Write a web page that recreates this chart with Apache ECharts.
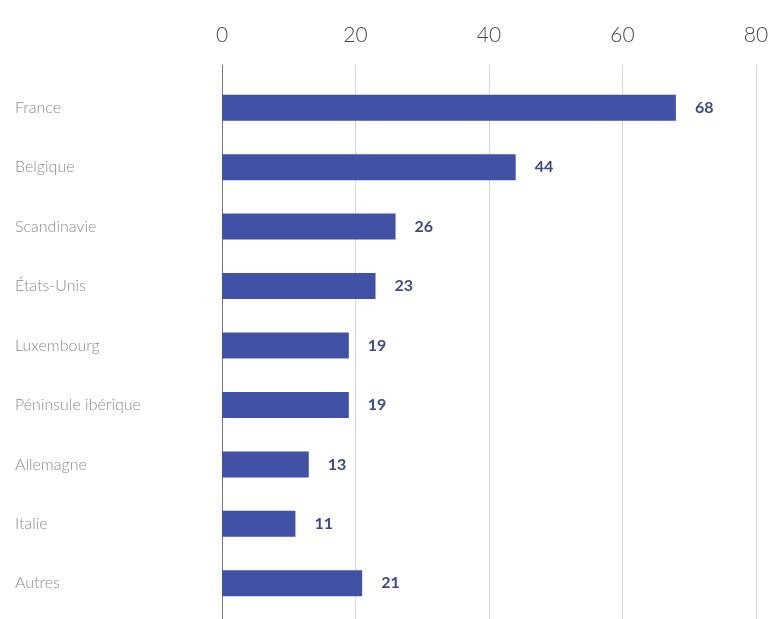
<!DOCTYPE html>
<html><head><meta charset="utf-8">
<script src="https://cdn.jsdelivr.net/npm/echarts@6/dist/echarts.min.js"></script>
<style>html,body{margin:0;padding:0;background:#fff}#c{width:775px;height:619px}</style>
</head><body><div id="c"></div>
<script>
const categories = ["France","Belgique","Scandinavie","États-Unis","Luxembourg","Péninsule ibérique","Allemagne","Italie","Autres"];
const values = [68,44,26,23,19,19,13,11,21];
const xTicks = [0,20,40,60,80];

const chart = echarts.init(document.getElementById('c'));
chart.setOption({
  animation:false,
  grid:[
    {left:222,right:19,top:65,bottom:0},
    {left:222,right:19,top:78,bottom:6}
  ],
  xAxis:[
    {gridIndex:0,type:'value',position:'top',min:xTicks[0],max:xTicks[xTicks.length-1],interval:20,
     axisLine:{show:false},axisTick:{show:false},
     axisLabel:{color:'#4a4a4a',fontSize:21,fontFamily:'Lato',fontWeight:300,margin:19},
     splitLine:{lineStyle:{color:'#d6d6d6',width:1}}},
    {gridIndex:1,type:'value',min:0,max:80,show:false,splitLine:{show:false}}
  ],
  yAxis:[
    {gridIndex:0,type:'value',min:0,max:1,show:true,axisLine:{show:true,lineStyle:{color:'#777',width:1}},
     axisTick:{show:false},axisLabel:{show:false},splitLine:{show:false}},
    {gridIndex:1,type:'category',data:categories,inverse:true,
     axisLine:{show:false},axisTick:{show:false},splitLine:{show:false},
     axisLabel:{align:'left',margin:207,color:'#8c8c8c',fontSize:16,fontFamily:'Lato',fontWeight:300,padding:[0,0,10,0]}}
  ],
  series:[{
    type:'bar',xAxisIndex:1,yAxisIndex:1,data:values,barWidth:26,
    itemStyle:{color:'#4152a6'},
    label:{show:true,position:'right',distance:19,color:'#3e4a8e',fontWeight:'bold',fontSize:16,fontFamily:'Lato'}
  }]
});
</script></body></html>
